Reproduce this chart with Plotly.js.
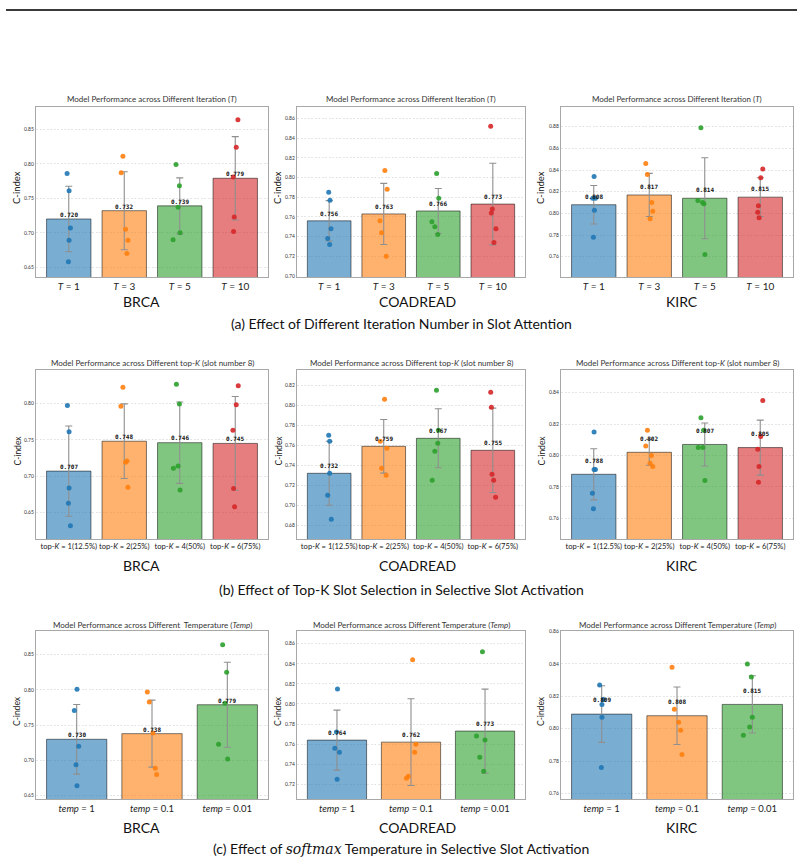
<!DOCTYPE html>
<html>
<head>
<meta charset="utf-8">
<script src="https://cdn.plot.ly/plotly-3.0.1.min.js"></script>
<style>html,body{margin:0;padding:0;background:#fff;}#chart{width:804px;height:862px;}</style>
</head>
<body>
<div id="chart"></div>
<script>
// ---------- categories ----------
const iterCats = ['<i>T</i> = 1', '<i>T</i> = 3', '<i>T</i> = 5', '<i>T</i> = 10'];
const topkCats = ['top-<i>K</i> = 1(12.5%)', 'top-<i>K</i> = 2(25%)', 'top-<i>K</i> = 4(50%)', 'top-<i>K</i> = 6(75%)'];
const tempCats = ['<i>temp</i> = 1', '<i>temp</i> = 0.1', '<i>temp</i> = 0.01'];
const datasets = ['BRCA', 'COADREAD', 'KIRC'];

// ---------- (a) iteration number ----------
const brcaIterMean = [0.720, 0.732, 0.739, 0.779];
const brcaIterStd = [0.0474, 0.0565, 0.0406, 0.0604];
const brcaIterPts = [[0.786,0.761,0.707,0.689,0.658],[0.811,0.787,0.705,0.689,0.670],[0.799,0.768,0.737,0.700,0.690],[0.864,0.824,0.781,0.723,0.702]];
const brcaIterJit = [[-0.03,0.006,0.03,0.006,-0.006],[-0.024,-0.055,0.024,0.067,0.048],[-0.067,-0.006,-0.03,0.006,-0.12],[0.048,0.018,-0.036,-0.018,-0.03]];

const coadIterMean = [0.756, 0.763, 0.766, 0.773];
const coadIterStd = [0.0205, 0.031, 0.0228, 0.0414];
const coadIterPts = [[0.785,0.777,0.748,0.738,0.732],[0.807,0.788,0.756,0.744,0.720],[0.804,0.779,0.755,0.750,0.742],[0.852,0.768,0.764,0.748,0.734]];
const coadIterJit = [[-0.009,0.015,0.033,-0.027,0.009],[0.021,0.063,-0.069,-0.039,0.045],[-0.03,0.009,-0.117,-0.063,-0.009],[-0.039,-0.009,-0.027,0.057,0.021]];

const kircIterMean = [0.808, 0.817, 0.814, 0.815];
const kircIterStd = [0.0178, 0.0199, 0.0374, 0.0179];
const kircIterPts = [[0.834,0.814,0.814,0.803,0.778],[0.846,0.836,0.810,0.802,0.795],[0.879,0.812,0.810,0.809,0.762],[0.841,0.833,0.807,0.801,0.796]];
const kircIterJit = [[0.006,-0.018,0.03,0.012,-0.006],[-0.063,-0.033,0.045,0.063,0.015],[-0.069,-0.123,-0.039,-0.015,0.003],[0.045,0.009,-0.033,-0.045,-0.021]];

// ---------- (b) top-K ----------
const brcaTopkMean = [0.707, 0.748, 0.746, 0.745];
const brcaTopkStd = [0.0618, 0.0512, 0.0558, 0.0643];
const brcaTopkPts = [[0.797,0.761,0.684,0.663,0.632],[0.822,0.796,0.721,0.719,0.685],[0.826,0.799,0.714,0.711,0.681],[0.824,0.798,0.763,0.683,0.658]];
const brcaTopkJit = [[-0.024,0.006,0.006,-0.006,0.03],[-0.024,-0.06,0.048,0.024,0.066],[-0.06,-0.006,-0.03,-0.114,0.006],[0.054,0.018,-0.042,-0.03,-0.012]];

const coadTopkMean = [0.732, 0.759, 0.767, 0.755];
const coadTopkStd = [0.032, 0.0268, 0.0295, 0.0422];
const coadTopkPts = [[0.770,0.764,0.732,0.710,0.686],[0.806,0.764,0.757,0.737,0.730],[0.815,0.775,0.762,0.754,0.725],[0.813,0.798,0.731,0.725,0.708]];
const coadTopkJit = [[-0.009,0.009,0.009,-0.027,0.039],[0.015,-0.063,0.057,-0.039,0.045],[-0.033,0.003,-0.009,-0.063,-0.111],[-0.039,-0.027,-0.015,0.015,0.051]];

const kircTopkMean = [0.788, 0.802, 0.807, 0.805];
const kircTopkStd = [0.0163, 0.0082, 0.0137, 0.0175];
const kircTopkPts = [[0.815,0.791,0.791,0.776,0.766],[0.816,0.806,0.800,0.795,0.793],[0.824,0.816,0.805,0.805,0.784],[0.835,0.812,0.804,0.793,0.783]];
const kircTopkJit = [[0.006,0.03,0.006,-0.024,-0.006],[-0.033,-0.063,0.039,0.015,0.063],[-0.069,-0.021,-0.117,-0.033,0.003],[0.045,0.009,-0.045,-0.022,-0.032]];

// ---------- (c) softmax temperature ----------
const brcaTempMean = [0.730, 0.738, 0.779];
const brcaTempStd = [0.0494, 0.0475, 0.0603];
const brcaTempPts = [[0.801,0.771,0.720,0.694,0.664],[0.797,0.783,0.739,0.689,0.680],[0.864,0.825,0.781,0.723,0.702]];
const brcaTempJit = [[0.004,-0.031,0.027,-0.009,0.004],[-0.062,-0.036,0.013,0.044,0.062],[-0.062,-0.009,-0.031,-0.116,0.004]];

const coadTempMean = [0.764, 0.762, 0.773];
const coadTempStd = [0.0299, 0.0432, 0.0418];
const coadTempPts = [[0.815,0.772,0.756,0.752,0.725],[0.844,0.760,0.752,0.728,0.726],[0.852,0.768,0.764,0.747,0.733]];
const coadTempJit = [[0.007,-0.007,-0.029,0.033,0.002],[0.022,0.066,0.049,-0.035,-0.062],[-0.035,-0.115,0,-0.071,-0.018]];

const kircTempMean = [0.809, 0.808, 0.815];
const kircTempStd = [0.0175, 0.0178, 0.0177];
const kircTempPts = [[0.827,0.818,0.815,0.807,0.776],[0.838,0.812,0.804,0.799,0.784],[0.840,0.832,0.807,0.801,0.796]];
const kircTempJit = [[-0.027,0.022,0.004,0.004,-0.004],[-0.066,-0.035,0.022,0.049,0.066],[-0.066,-0.013,0,-0.035,-0.119]];

// ---------- text ----------
const rowTitles = [
  'Model Performance across Different Iteration (<i>T</i>)',
  'Model Performance across Different top-<i>K</i> (slot number 8)',
  'Model Performance across Different Temperature (<i>Temp</i>)'
];
const brcaTempTitle = 'Model Performance across Different  Temperature (<i>Temp</i>)';
const captions = [
  '(a) Effect of Different Iteration Number in Slot Attention',
  '(b) Effect of Top-K Slot Selection in Selective Slot Activation',
  '(c) Effect of <span style="font-family:\'DejaVu Serif\'"><i>softmax</i></span> Temperature in Selective Slot Activation'
];

// ---------- styling ----------
const W = 804, H = 862;
const solid = ['#1f77b4', '#ff7f0e', '#2ca02c', '#d62728'];
const fills = ['rgba(31,119,180,0.6)', 'rgba(255,127,14,0.6)', 'rgba(44,160,44,0.6)', 'rgba(214,39,40,0.6)'];
const colPx = [[36, 268], [297, 525], [561, 793]];
const rowPx = [[107, 277], [370, 539], [631, 799]];
const rowTitleY = [99, 363, 625];
const dsLabelY = [301, 565, 827];
const dsLabelX = [141, 417, 682];
const captionY = [323, 589, 848];
const xTickSize = [10, 7.6, 9.5];
const yTitleX = [17, 278, 541];
const FONT = 'Lato, "Open Sans", sans-serif';
const px = v => v / W;
const py = v => 1 - v / H;

const panels = [
  {r:0,c:0,cats:iterCats,mean:brcaIterMean,std:brcaIterStd,pts:brcaIterPts,jit:brcaIterJit,range:[0.6359,0.8823],dtick:0.05},
  {r:0,c:1,cats:iterCats,mean:coadIterMean,std:coadIterStd,pts:coadIterPts,jit:coadIterJit,range:[0.699,0.8715],dtick:0.02},
  {r:0,c:2,cats:iterCats,mean:kircIterMean,std:kircIterStd,pts:kircIterPts,jit:kircIterJit,range:[0.7413,0.8982],dtick:0.02},
  {r:1,c:0,cats:topkCats,mean:brcaTopkMean,std:brcaTopkStd,pts:brcaTopkPts,jit:brcaTopkJit,range:[0.6139,0.8457],dtick:0.05},
  {r:1,c:1,cats:topkCats,mean:coadTopkMean,std:coadTopkStd,pts:coadTopkPts,jit:coadTopkJit,range:[0.6663,0.8353],dtick:0.02},
  {r:1,c:2,cats:topkCats,mean:kircTopkMean,std:kircTopkStd,pts:kircTopkPts,jit:kircTopkJit,range:[0.7468,0.8544],dtick:0.02},
  {r:2,c:0,cats:tempCats,mean:brcaTempMean,std:brcaTempStd,pts:brcaTempPts,jit:brcaTempJit,range:[0.6453,0.8836],dtick:0.05,title:brcaTempTitle},
  {r:2,c:1,cats:tempCats,mean:coadTempMean,std:coadTempStd,pts:coadTempPts,jit:coadTempJit,range:[0.7054,0.8726],dtick:0.02},
  {r:2,c:2,cats:tempCats,mean:kircTempMean,std:kircTempStd,pts:kircTempPts,jit:kircTempJit,range:[0.7565,0.8604],dtick:0.02}
];

const traces = [];
const annotations = [];
const layout = {
  width: W, height: H,
  margin: {l:0, r:0, t:0, b:0},
  paper_bgcolor: '#fff', plot_bgcolor: '#fff',
  showlegend: false,
  font: {family: FONT, color: '#222'},
  shapes: [{type:'line', xref:'paper', yref:'paper', x0:px(6), x1:px(797), y0:py(10), y1:py(10), line:{color:'#3a3a3a', width:2}}]
};

panels.forEach((p, i) => {
  const k = i + 1;
  const xa = 'x' + k, ya = 'y' + k;
  const n = p.cats.length;
  const idx = p.cats.map((_, j) => j);
  const pad = 0.05 * (n - 1 + 0.8);
  const cx = colPx[p.c], ry = rowPx[p.r];

  layout['xaxis' + k] = {
    domain: [px(cx[0]), px(cx[1])], anchor: ya,
    range: [-0.4 - pad, n - 1 + 0.4 + pad],
    tickvals: idx, ticktext: p.cats, ticks: '', tickangle: 0,
    tickfont: {size: xTickSize[p.r], color: '#222', family: FONT},
    showgrid: false, zeroline: false,
    showline: true, mirror: true, linecolor: '#a8a8a8', linewidth: 1.2, fixedrange: true
  };
  layout['yaxis' + k] = {
    domain: [py(ry[1]), py(ry[0])], anchor: xa,
    range: p.range, tick0: 0, dtick: p.dtick, tickformat: '.2f', ticks: '',
    tickfont: {size: 5, color: '#333', family: FONT},
    showgrid: true, gridcolor: '#e0e0e0', gridwidth: 0.8, griddash: '2px,1.5px',
    zeroline: false, showline: true, mirror: true, linecolor: '#a8a8a8', linewidth: 1.2, fixedrange: true
  };

  traces.push({
    type: 'bar', x: idx, y: p.mean, width: 0.8, xaxis: xa, yaxis: ya,
    marker: {color: fills.slice(0, n), line: {color: 'rgba(0,0,0,0.5)', width: 1}},
    error_y: {type: 'data', array: p.std, visible: true, color: '#8f8f8f', thickness: 1.1, width: 3.5},
    hoverinfo: 'skip'
  });

  p.pts.forEach((vals, j) => {
    traces.push({
      type: 'scatter', mode: 'markers', xaxis: xa, yaxis: ya,
      x: vals.map((_, m) => j + p.jit[j][m]), y: vals,
      marker: {color: solid[j], size: 5, opacity: 0.9},
      hoverinfo: 'skip'
    });
  });

  p.mean.forEach((m, j) => {
    annotations.push({
      xref: xa, yref: ya, x: j, y: m + 0.0107, yshift: -3,
      text: '<b>' + m.toFixed(3) + '</b>', showarrow: false,
      xanchor: 'center', yanchor: 'middle',
      font: {family: '"DejaVu Sans Mono", monospace', size: 6, color: '#111'}
    });
  });

  // subplot title
  annotations.push({
    xref: 'paper', yref: 'paper', x: px((cx[0] + cx[1]) / 2), y: py(rowTitleY[p.r]),
    text: p.title || rowTitles[p.r], showarrow: false, xanchor: 'center', yanchor: 'middle',
    font: {family: FONT, size: 8, color: '#333'}
  });
  // y-axis title
  annotations.push({
    xref: 'paper', yref: 'paper', x: px(yTitleX[p.c]), y: py((ry[0] + ry[1]) / 2 - 4),
    text: 'C-index', textangle: -90, showarrow: false, xanchor: 'center', yanchor: 'middle',
    font: {family: FONT, size: p.r === 0 ? 9.5 : 8.5, color: '#222'}
  });
  // dataset label
  annotations.push({
    xref: 'paper', yref: 'paper', x: px(dsLabelX[p.c]), y: py(dsLabelY[p.r]),
    text: datasets[p.c], showarrow: false, xanchor: 'center', yanchor: 'middle',
    font: {family: FONT, size: 14, color: '#111'}
  });
});

captions.forEach((t, r) => {
  annotations.push({
    xref: 'paper', yref: 'paper', x: px(401), y: py(captionY[r]),
    text: t, showarrow: false, xanchor: 'center', yanchor: 'middle',
    font: {family: FONT, size: 14, color: '#111'}
  });
});

layout.annotations = annotations;
Plotly.newPlot('chart', traces, layout, {staticPlot: true, displayModeBar: false});
</script>
</body>
</html>
